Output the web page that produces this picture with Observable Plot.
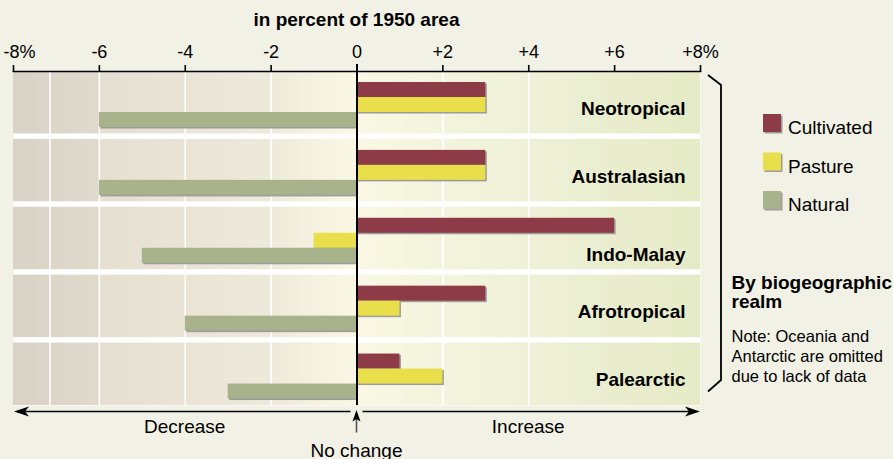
<!DOCTYPE html>
<html><head><meta charset="utf-8">
<script src="https://cdn.jsdelivr.net/npm/d3@7"></script>
<script src="https://cdn.jsdelivr.net/npm/@observablehq/plot@0.6"></script>
<style>
html,body{margin:0;padding:0;background:#f2f1e6;}
#chart svg{display:block;}
</style></head><body><div id="chart"></div>
<script>
// ---- data ----
const regions = ["Neotropical", "Australasian", "Indo-Malay", "Afrotropical", "Palearctic"];
const seriesNames = ["Cultivated", "Pasture", "Natural"];
const cultivated = [3, 3, 6, 3, 1];
const pasture = [3, 3, -1, 1, 2];
const natural = [-6, -6, -5, -4, -3];
const seriesColors = ["#8e3b48", "#e8df4a", "#a8b38b"];
const tickValues = [-8, -6, -4, -2, 0, 2, 4, 6, 8];
const tickLabels = ["-8%", "-6", "-4", "-2", "0", "+2", "+4", "+6", "+8%"];
const gridValues = [-7.15, -6, -4, -2, 2, 4];
const axisTitle = "in percent of 1950 area";
const realmLines = ["By biogeographic", "realm"];
const noteLines = ["Note: Oceania and", "Antarctic are omitted", "due to lack of data"];
const directionLabels = [{x: -4, text: "Decrease"}, {x: 4, text: "Increase"}];
const zeroLabel = "No change";

// ---- layout ----
const W = 893, H = 459;
const mT = 71, mB = 54, mL = 13, mR = 193;
const padInner = 0.08;
const step = (H - mT - mB) / (regions.length - padInner);
const bw = step * (1 - padInner);
const barH = 15, barTop0 = 11;
const FONT = "'Liberation Sans', Arial, Helvetica, sans-serif";

const seriesData = [cultivated, pasture, natural].map(arr =>
  regions.map((r, i) => ({region: r, value: arr[i]})));

function barMarks(shadow) {
  return seriesData.map((rows, k) => {
    const top = barTop0 + k * barH;
    return Plot.barX(rows, {
      x1: () => 0, x2: "value", y: "region",
      fill: shadow ? "#9c9c9c" : seriesColors[k],
      insetTop: top, insetBottom: bw - top - barH,
      dx: shadow ? 1.5 : 0, dy: shadow ? 1.5 : 0
    });
  });
}

function defsMark() {
  const defs = d3.create("svg:defs");
  const lg = defs.append("linearGradient").attr("id", "bggrad")
    .attr("x1", "0").attr("x2", "1").attr("y1", "0").attr("y2", "0");
  [[0, "#d9d3c7"], [0.124, "#e0dacd"], [0.126, "#e5dfd2"], [0.25, "#e9e4d6"],
   [0.375, "#eeeadb"], [0.5, "#faf8e4"], [0.625, "#f3f4dd"], [0.75, "#eef1d7"], [1, "#e5eac6"]]
    .forEach(([o, c]) => lg.append("stop").attr("offset", o).attr("stop-color", c));
  return defs.node();
}

function decorations(index, scales, values, dims) {
  const x = scales.x;
  const {width, height, marginRight, marginBottom} = dims;
  const right = width - marginRight;
  const g = d3.create("svg:g").attr("font-family", FONT).attr("fill", "black").attr("text-anchor", "start");
  // axis title
  g.append("text").attr("x", x(0)).attr("y", 26).attr("text-anchor", "middle")
    .attr("font-size", 19).attr("font-weight", "bold").text(axisTitle);
  // bottom arrows
  const ay = height - marginBottom + 6.5;
  g.append("line").attr("x1", x(-8) + 4).attr("x2", x(0) - 6).attr("y1", ay).attr("y2", ay)
    .attr("stroke", "black").attr("stroke-width", 1.6);
  g.append("line").attr("x1", x(0) + 6).attr("x2", x(8) - 4).attr("y1", ay).attr("y2", ay)
    .attr("stroke", "black").attr("stroke-width", 1.6);
  const lt = x(-8) + 1, rt = x(8);
  g.append("path").attr("d", `M${lt},${ay}L${lt + 15},${ay - 5}L${lt + 11},${ay}L${lt + 15},${ay + 5}Z`);
  g.append("path").attr("d", `M${rt},${ay}L${rt - 15},${ay - 5}L${rt - 11},${ay}L${rt - 15},${ay + 5}Z`);
  // up arrow (no change)
  const zx = x(0);
  g.append("line").attr("x1", zx).attr("x2", zx).attr("y1", ay + 6).attr("y2", ay + 21)
    .attr("stroke", "#555").attr("stroke-width", 1.6);
  g.append("path").attr("d", `M${zx},${ay - 1.5}L${zx + 4},${ay + 10}L${zx},${ay + 7.5}L${zx - 4},${ay + 10}Z`);
  directionLabels.forEach(d => g.append("text").attr("x", x(d.x)).attr("y", ay + 21.5)
    .attr("text-anchor", "middle").attr("font-size", 19).text(d.text));
  g.append("text").attr("x", zx).attr("y", ay + 45).attr("text-anchor", "middle")
    .attr("font-size", 19).text(zeroLabel);
  // brace
  g.append("path").attr("d", `M${right + 8},75L${right + 21},85V380L${right + 8},391.5`)
    .attr("fill", "none").attr("stroke", "black").attr("stroke-width", 1.8);
  // legend
  const ly = [114, 152.5, 191];
  seriesNames.forEach((name, k) => {
    g.append("rect").attr("x", right + 64.5).attr("y", ly[k] + 1.5).attr("width", 18).attr("height", 18).attr("fill", "#9c9c9c");
    g.append("rect").attr("x", right + 63).attr("y", ly[k]).attr("width", 18).attr("height", 18).attr("fill", seriesColors[k]);
    g.append("text").attr("x", right + 88).attr("y", ly[k] + 20).attr("text-anchor", "start").attr("font-size", 19).text(name);
  });
  realmLines.forEach((t, i) => g.append("text").attr("x", right + 31.5).attr("y", 288.5 + i * 19)
    .attr("text-anchor", "start").attr("font-size", 19).attr("font-weight", "bold").text(t));
  noteLines.forEach((t, i) => g.append("text").attr("x", right + 31.5).attr("y", 341.5 + i * 20)
    .attr("text-anchor", "start").attr("font-size", 16.5).text(t));
  return g.node();
}

const chart = Plot.plot({
  width: W, height: H,
  marginTop: mT, marginBottom: mB, marginLeft: mL, marginRight: mR,
  style: {background: "#f2f1e6", fontFamily: FONT, color: "#000", overflow: "visible"},
  x: {domain: [-8, 8], axis: null},
  y: {domain: regions, axis: null, paddingInner: padInner, paddingOuter: 0, round: false},
  marks: [
    defsMark,
    Plot.frame({fill: "white", stroke: "none"}),
    Plot.barX(regions, {y: d => d, x1: () => -8, x2: () => 8, fill: "url(#bggrad)"}),
    Plot.ruleX(gridValues, {x: d => d, stroke: "white", strokeWidth: 1.6}),
    Plot.ruleX([6], {x: d => d, y: () => "Indo-Malay", stroke: "white", strokeWidth: 1.6, insetBottom: 31}),
    ...barMarks(true),
    ...barMarks(false),
    Plot.ruleX([0], {x: d => d, stroke: "black", strokeWidth: 2, insetTop: -7}),
    Plot.frame({anchor: "top", stroke: "black", strokeWidth: 1.6}),
    Plot.axisX({anchor: "top", ticks: tickValues, tickFormat: () => "", tickSize: 7, strokeWidth: 1.6, label: null}),
    Plot.text(tickValues.slice(1), {x: d => d, text: (d, i) => tickLabels[i + 1], frameAnchor: "top", lineAnchor: "bottom", dy: -14, fontSize: 18}),
    Plot.text(tickValues.slice(0, 1), {x: d => d, text: (d, i) => tickLabels[i], frameAnchor: "top", lineAnchor: "bottom", dy: -14, dx: 6, fontSize: 18}),
    Plot.text(regions.filter(r => r !== "Indo-Malay"), {x: () => 8, y: d => d, text: d => d, textAnchor: "end", dx: -15, dy: 6, fontSize: 19, fontWeight: "bold"}),
    Plot.text(regions.filter(r => r === "Indo-Malay"), {x: () => 8, y: d => d, text: d => d, textAnchor: "end", dx: -15, dy: 16, fontSize: 19, fontWeight: "bold"}),
    decorations
  ]
});
document.getElementById("chart").appendChild(chart);
</script></body></html>
